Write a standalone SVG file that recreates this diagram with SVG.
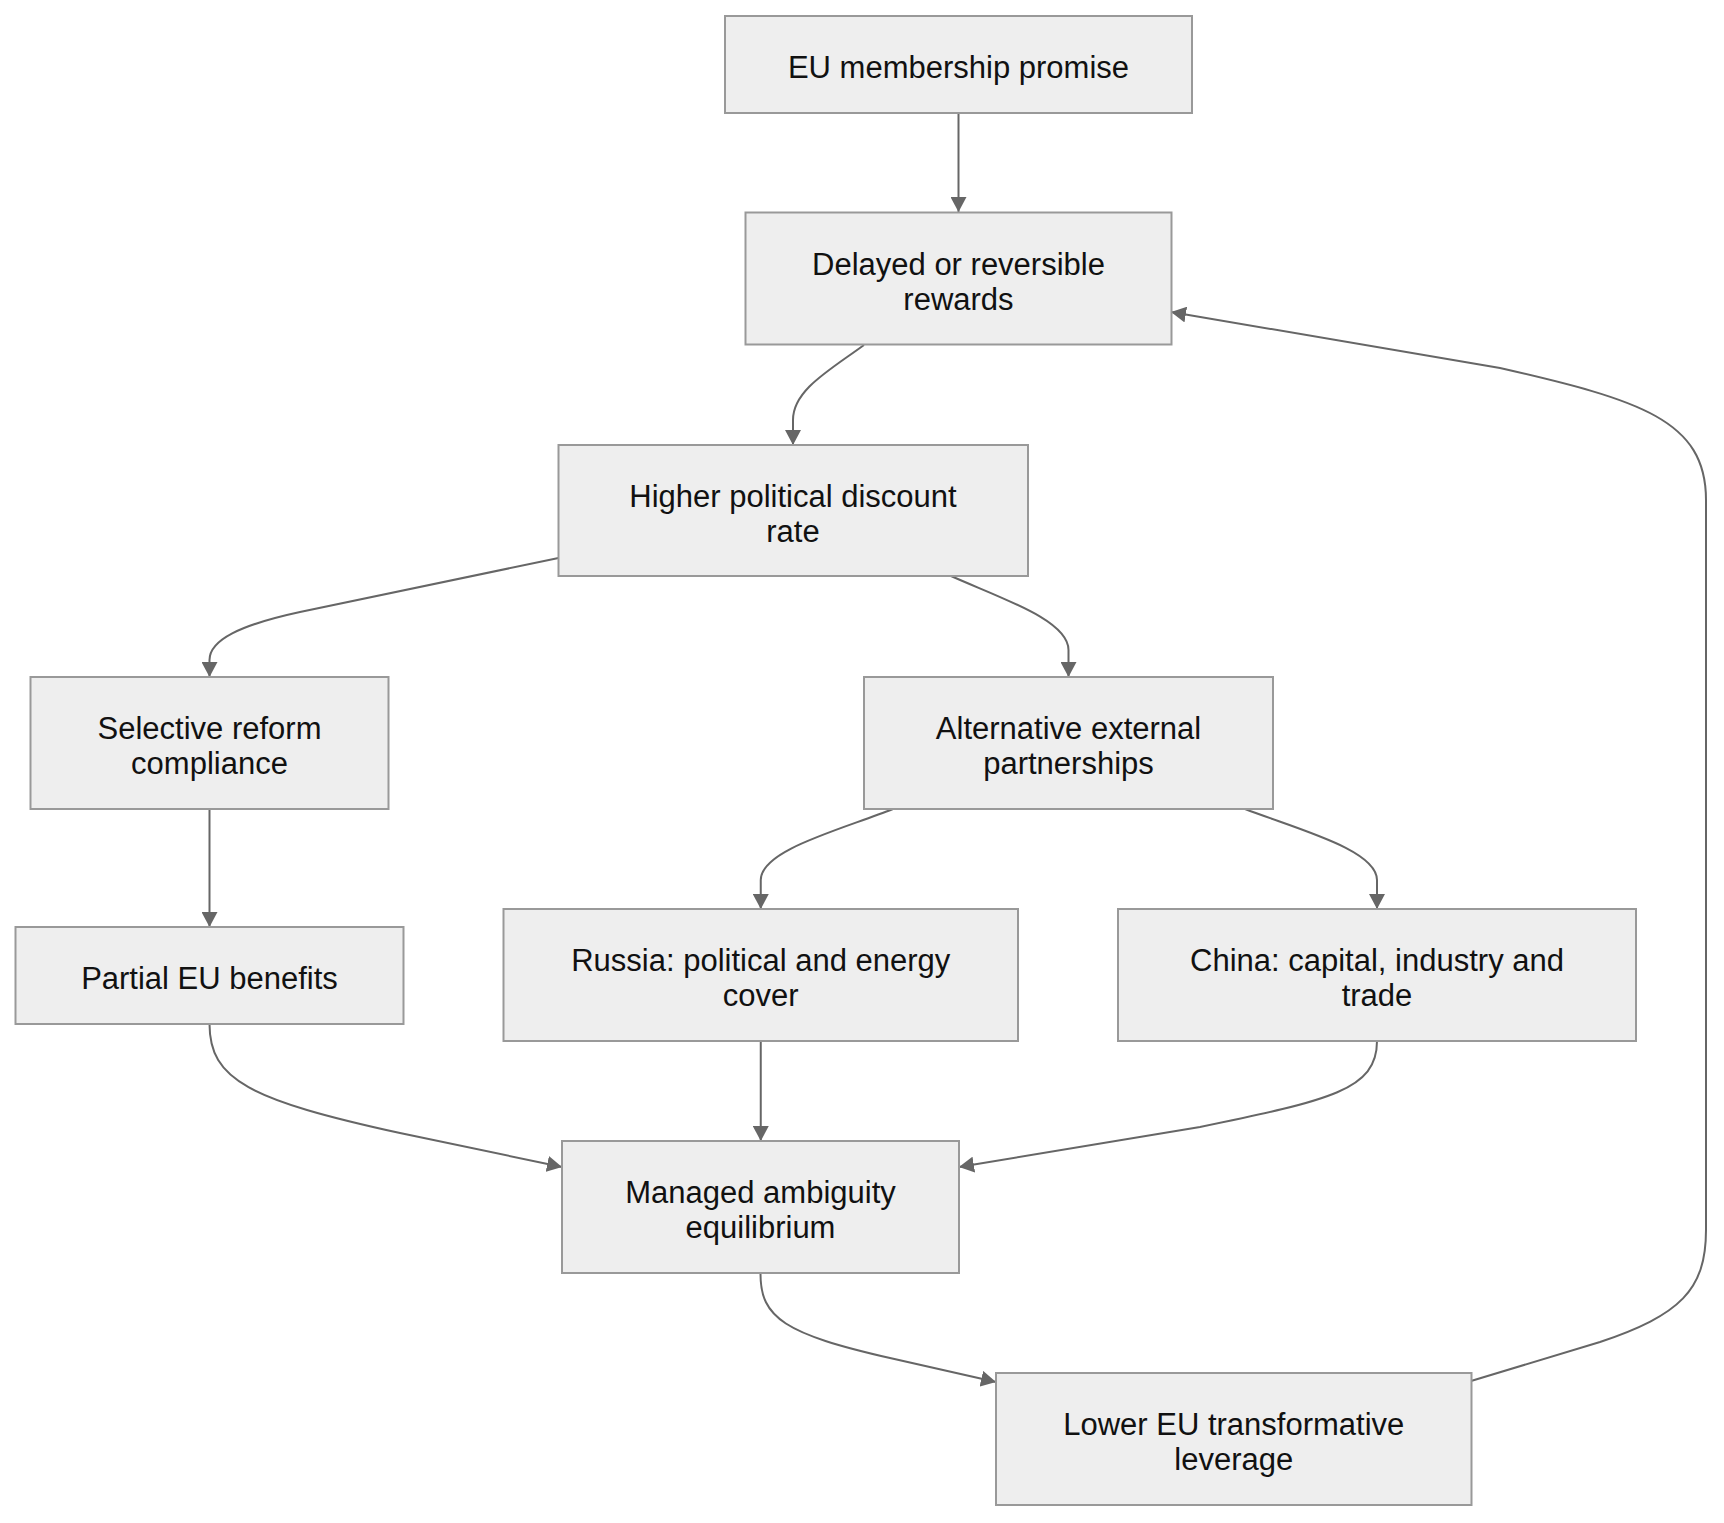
<svg xmlns="http://www.w3.org/2000/svg" width="1724" height="1523" viewBox="0 0 1724 1523">
<style>
.node rect{fill:#eeeeee;stroke:#999999;stroke-width:2}
.node text{font-family:"Liberation Sans",Arial,sans-serif;font-size:31px;fill:#111111;text-anchor:middle}
.edges path{fill:none;stroke:#666666;stroke-width:2}
</style>
<defs>
<marker id="arrow" markerUnits="userSpaceOnUse" markerWidth="16" markerHeight="16" refX="15" refY="8" orient="auto">
<path d="M0,0 L15,8 L0,16 z" fill="#666666"/>
</marker>
</defs>
<rect width="1724" height="1523" fill="#ffffff"/>
<g class="edges">
<path d="M958.5,113 L958.5,212" marker-end="url(#arrow)"/>
<path d="M864,345 C830,370 793,390 793,420 L793,445" marker-end="url(#arrow)"/>
<path d="M558.5,558 L300,612 C240,625 209.5,640 209.5,660 L209.5,677" marker-end="url(#arrow)"/>
<path d="M951,576 C1000,598 1068.5,620 1068.5,650 L1068.5,677" marker-end="url(#arrow)"/>
<path d="M209.5,809 L209.5,927" marker-end="url(#arrow)"/>
<path d="M893,809 C840,830 760.75,850 760.75,880 L760.75,909" marker-end="url(#arrow)"/>
<path d="M1245,809 C1300,830 1377,850 1377,880 L1377,909" marker-end="url(#arrow)"/>
<path d="M209.5,1024 C209.5,1080 250,1100 400,1133 L562,1167" marker-end="url(#arrow)"/>
<path d="M760.75,1041 L760.75,1141" marker-end="url(#arrow)"/>
<path d="M1377,1041 C1377,1090 1330,1100 1200,1127 L959,1167" marker-end="url(#arrow)"/>
<path d="M760.5,1274 C760.5,1318 785,1334 890,1358 L996,1382" marker-end="url(#arrow)"/>
<path d="M1471,1381 L1600,1342 C1680,1315 1706,1290 1706,1230 L1706,500 C1706,420 1640,400 1500,368 L1171,312" marker-end="url(#arrow)"/>
</g>
<g id="n1" class="node"><rect x="725" y="16" width="467" height="97"/><text x="958.5" y="78">EU membership promise</text></g>
<g id="n2" class="node"><rect x="745.5" y="212.5" width="426" height="132"/><text x="958.5" y="274.5">Delayed or reversible</text><text x="958.5" y="309.5">rewards</text></g>
<g id="n3" class="node"><rect x="558.5" y="445" width="469.5" height="131"/><text x="793" y="506.5">Higher political discount</text><text x="793" y="541.5">rate</text></g>
<g id="n4" class="node"><rect x="30.5" y="677" width="358" height="132"/><text x="209.5" y="739">Selective reform</text><text x="209.5" y="774">compliance</text></g>
<g id="n5" class="node"><rect x="864" y="677" width="409" height="132"/><text x="1068.5" y="739">Alternative external</text><text x="1068.5" y="774">partnerships</text></g>
<g id="n6" class="node"><rect x="15.5" y="927" width="388" height="97"/><text x="209.5" y="989">Partial EU benefits</text></g>
<g id="n7" class="node"><rect x="503.5" y="909" width="514.5" height="132"/><text x="760.75" y="971">Russia: political and energy</text><text x="760.75" y="1006">cover</text></g>
<g id="n8" class="node"><rect x="1118" y="909" width="518" height="132"/><text x="1377" y="971">China: capital, industry and</text><text x="1377" y="1006">trade</text></g>
<g id="n9" class="node"><rect x="562" y="1141" width="397" height="132"/><text x="760.5" y="1203">Managed ambiguity</text><text x="760.5" y="1238">equilibrium</text></g>
<g id="n10" class="node"><rect x="996" y="1373" width="475.5" height="132"/><text x="1233.75" y="1435">Lower EU transformative</text><text x="1233.75" y="1470">leverage</text></g>
</svg>
